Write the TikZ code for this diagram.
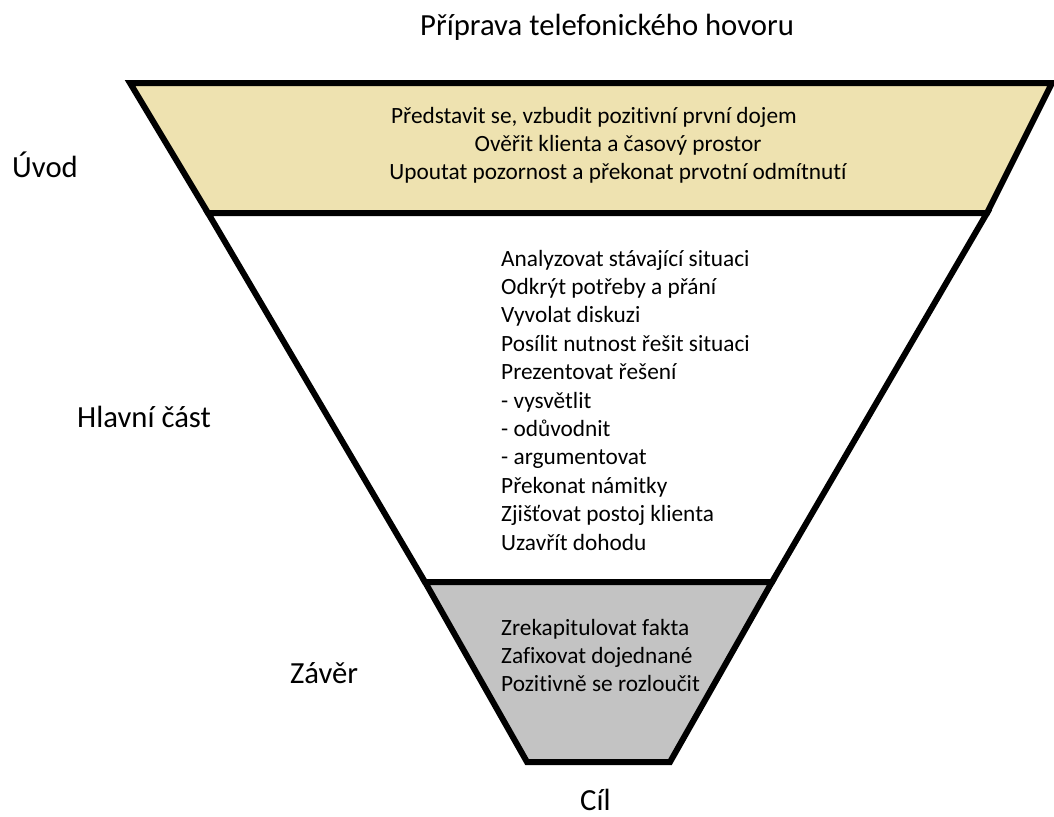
\documentclass[tikz,border=0pt]{standalone}
\usepackage{fontspec}
\setmainfont{Carlito}[Ligatures=NoCommon]
\definecolor{bandtan}{HTML}{EEE2B0}
\definecolor{bandgray}{HTML}{C3C3C3}
\begin{document}
\begin{tikzpicture}[x=1pt,y=-1pt,
  band/.style={draw=black,line width=6pt,line join=miter},
  body/.style={inner sep=0pt,font=\fontsize{23.3}{28.4}\selectfont,text=black},
  label/.style={inner sep=0pt,anchor=base west,font=\fontsize{30.7}{34}\selectfont,text=black}]
\useasboundingbox (0,0) rectangle (1054,816);
% corners
\coordinate (tl) at (130,83);
\coordinate (tr) at (1052,83);
\coordinate (m1l) at (208,213);
\coordinate (m1r) at (987,213);
\coordinate (m2l) at (425,582);
\coordinate (m2r) at (772,582);
\coordinate (bl) at (527,762);
\coordinate (br) at (670,762);
% bands
\filldraw[band,fill=bandtan] (tl) -- (tr) -- (m1r) -- (m1l) -- cycle;
\filldraw[band,fill=white] (m1l) -- (m1r) -- (m2r) -- (m2l) -- cycle;
\filldraw[band,fill=bandgray] (m2l) -- (m2r) -- (br) -- (bl) -- cycle;
% title
\node[label] (title) at (420,36) {Příprava telefonického hovoru};
% side labels
\node[label] (uvod) at (12,177) {Úvod};
\node[label] (hlavni) at (77,427) {Hlavní část};
\node[label] (zaver) at (290,683) {Závěr};
\node[label] (cil) at (580,810) {Cíl};
% texts
\node[body,align=center,anchor=north] (t1) at (618,103.1) {\strut Představit se, vzbudit pozitivní první dojem\hspace*{48pt}\\Ověřit klienta a časový prostor\\Upoutat pozornost a překonat prvotní odmítnutí};
\node[body,align=left,anchor=north west] (t2) at (501,246.1) {\strut Analyzovat stávající situaci\\Odkrýt potřeby a přání\\Vyvolat diskuzi\\Posílit nutnost řešit situaci\\Prezentovat řešení\\- vysvětlit\\- odůvodnit\\- argumentovat\\Překonat námitky\\Zjišťovat postoj klienta\\Uzavřít dohodu};
\node[body,align=left,anchor=north west] (t3) at (501,615.1) {\strut Zrekapitulovat fakta\\Zafixovat dojednané\\Pozitivně se rozloučit};
\end{tikzpicture}
\end{document}
